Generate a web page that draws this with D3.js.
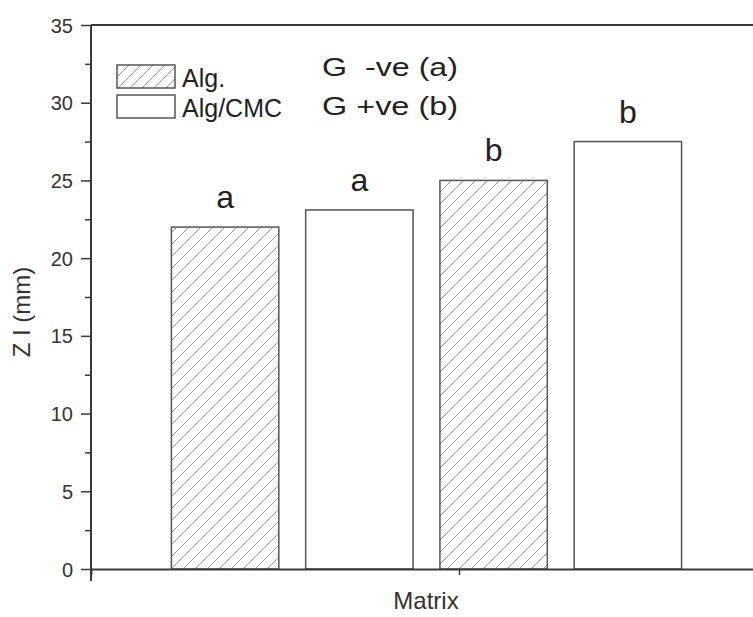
<!DOCTYPE html>
<html>
<head>
<meta charset="utf-8">
<script src="https://cdn.jsdelivr.net/npm/d3@7"></script>
<style>
  body { margin: 0; background: #fff; }
  text { font-family: Arial, "Liberation Sans", sans-serif; }
</style>
</head>
<body>
<div id="svg"></div>
<script>
// data
var bars = ["Alg. G-ve", "Alg/CMC G-ve", "Alg. G+ve", "Alg/CMC G+ve"];
var values = [22.0, 23.1, 25.0, 27.5];
var matrix = ["Alg.", "Alg/CMC", "Alg.", "Alg/CMC"];
var letters = ["a", "a", "b", "b"];
var legendNames = ["Alg.", "Alg/CMC"];
var groupNotes = ["G  -ve (a)", "G +ve (b)"];
var yTicks = [0, 5, 10, 15, 20, 25, 30, 35];

var W = 753, H = 617;
var margin = {top: 25, right: -74, bottom: 48, left: 91},
    width = W - margin.left - margin.right,
    height = H - margin.top - margin.bottom;

var svg = d3.select("#svg")
  .append("svg")
    .attr("width", W)
    .attr("height", H)
  .append("g")
    .attr("transform", "translate(" + margin.left + "," + margin.top + ")");

var defs = svg.append("defs");
defs.append("pattern")
    .attr("id", "hatch")
    .attr("patternUnits", "userSpaceOnUse")
    .attr("width", 12)
    .attr("height", 12)
  .append("path")
    .attr("d", "M-3,3 L3,-3 M0,12 L12,0 M9,15 L15,9")
    .style("stroke", "#999")
    .style("stroke-width", 1);

// scales
var y = d3.scaleLinear()
  .domain([0, 35])
  .range([height, 0]);

var x = d3.scaleBand()
  .domain(bars)
  .range([158 - margin.left, 695 - margin.left])
  .paddingInner(0.2)
  .paddingOuter(0.1);

var xAxisScale = d3.scaleLinear()
  .domain([0, 1])
  .range([0, width]);

var axisColor = "#3a3a3a";

// Y axis (major + minor ticks)
var yAxis = svg.append("g")
  .call(d3.axisLeft(y).tickValues(yTicks).tickSize(10).tickPadding(8))
  .attr("font-size", 20)
  .attr("font-family", "Arial, 'Liberation Sans', sans-serif");
yAxis.select(".domain").remove();
yAxis.selectAll("line").style("stroke", axisColor).style("stroke-width", 1.5);
yAxis.selectAll("text")
  .style("font-size", "20px")
  .style("fill", "#333")
  .attr("dy", "0.35em");

var yMinor = svg.append("g")
  .call(d3.axisLeft(y).tickValues(d3.range(2.5, 35, 5)).tickSize(6).tickFormat(""));
yMinor.select(".domain").remove();
yMinor.selectAll("line").style("stroke", axisColor).style("stroke-width", 1.5);

svg.append("line")
  .attr("x1", 0).attr("x2", 0)
  .attr("y1", y(35)).attr("y2", height + 12)
  .style("stroke", axisColor).style("stroke-width", 2);

// top frame line
svg.append("line")
  .attr("x1", 0).attr("x2", width)
  .attr("y1", y(35)).attr("y2", y(35))
  .style("stroke", axisColor).style("stroke-width", 2);

// bars
svg.append("g")
  .selectAll("rect")
  .data(bars)
  .enter()
  .append("rect")
    .attr("x", function(d) { return x(d); })
    .attr("y", function(d, i) { return y(values[i]); })
    .attr("width", x.bandwidth())
    .attr("height", function(d, i) { return height - y(values[i]); })
    .style("fill", function(d, i) { return matrix[i] == "Alg." ? "url(#hatch)" : "#fff"; })
    .style("stroke", "#555")
    .style("stroke-width", 1.5);

// significance letters
svg.append("g")
  .selectAll("text")
  .data(bars)
  .enter()
  .append("text")
    .attr("x", function(d) { return x(d) + x.bandwidth() / 2; })
    .attr("y", function(d, i) { return y(values[i]) - 19; })
    .attr("text-anchor", "middle")
    .style("font-size", "32px")
    .style("fill", "#222")
    .text(function(d, i) { return letters[i]; });

// X axis
var xAxis = svg.append("g")
  .attr("transform", "translate(0," + height + ")")
  .call(d3.axisBottom(xAxisScale).tickValues([0.5]).tickSize(6).tickFormat(""));
xAxis.select(".domain").style("stroke", axisColor).style("stroke-width", 2);
xAxis.selectAll("line").style("stroke", axisColor).style("stroke-width", 1.5);

// axis titles
svg.append("text")
  .attr("x", 426 - margin.left)
  .attr("y", 609 - margin.top)
  .attr("text-anchor", "middle")
  .style("font-size", "24px")
  .style("fill", "#333")
  .text("Matrix");

svg.append("text")
  .attr("transform", "rotate(-90)")
  .attr("x", -(312 - margin.top))
  .attr("y", 30 - margin.left)
  .attr("text-anchor", "middle")
  .style("font-size", "24px")
  .style("fill", "#333")
  .text("Z I (mm)");

// legend
var legend = svg.append("g")
  .attr("transform", "translate(" + (117 - margin.left) + "," + (65 - margin.top) + ")");
legend.selectAll("rect")
  .data(legendNames)
  .enter()
  .append("rect")
    .attr("x", 0)
    .attr("y", function(d, i) { return i * 30; })
    .attr("width", 58)
    .attr("height", 23)
    .style("fill", function(d, i) { return i == 0 ? "url(#hatch)" : "#fff"; })
    .style("stroke", "#555")
    .style("stroke-width", 1.5);
legend.selectAll("text")
  .data(legendNames)
  .enter()
  .append("text")
    .attr("x", 65)
    .attr("y", function(d, i) { return i * 30 + 22; })
    .style("font-size", "25px")
    .style("fill", "#222")
    .text(function(d) { return d; });

// group note
svg.append("g")
  .selectAll("text")
  .data(groupNotes)
  .enter()
  .append("text")
    .attr("x", 322 - margin.left)
    .attr("y", function(d, i) { return 76 - margin.top + i * 39; })
    .attr("xml:space", "preserve")
    .attr("textLength", 136)
    .attr("lengthAdjust", "spacingAndGlyphs")
    .style("white-space", "pre")
    .style("font-size", "26px")
    .style("fill", "#222")
    .text(function(d) { return d; });
</script>
</body>
</html>
